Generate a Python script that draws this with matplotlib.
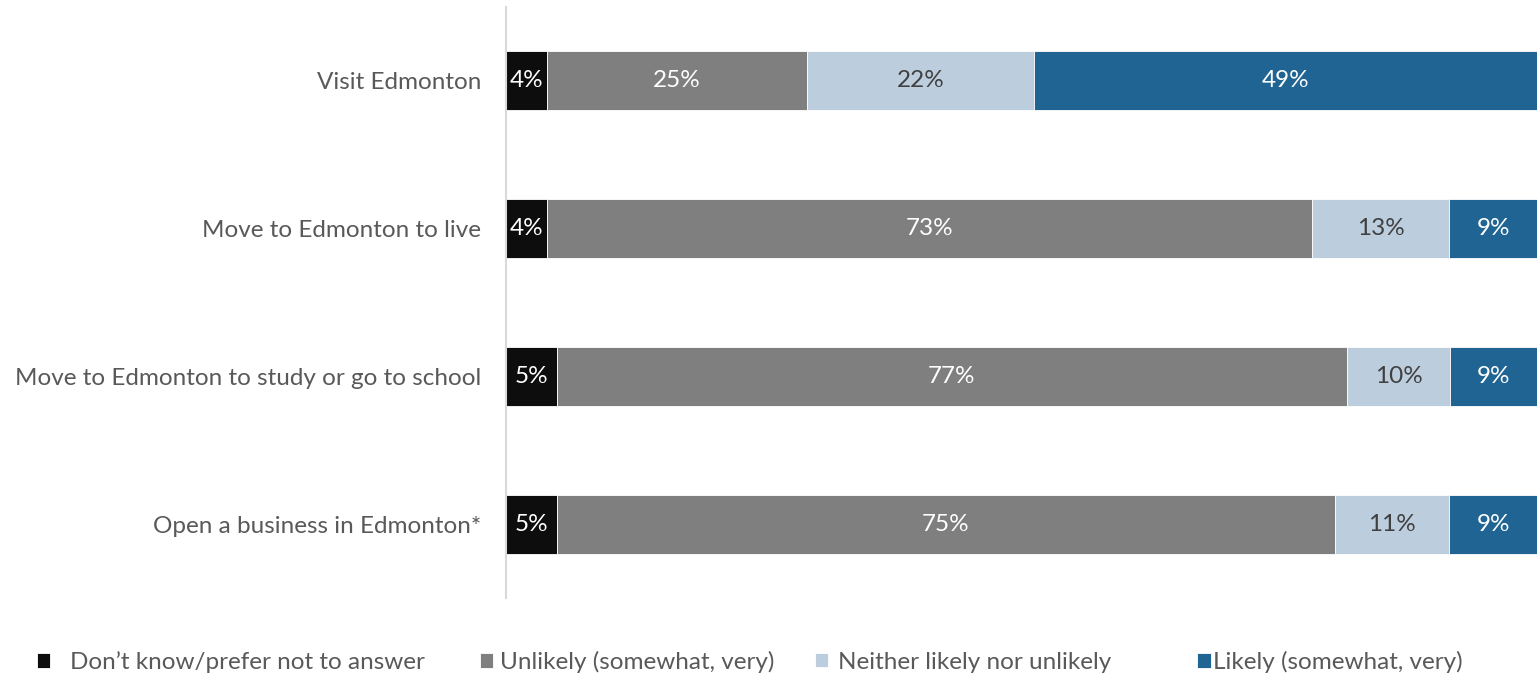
import matplotlib.pyplot as plt
import numpy as np

plt.rcParams['font.family'] = ['Lato', 'DejaVu Sans']

categories = ["Visit Edmonton", "Move to Edmonton to live",
              "Move to Edmonton to study or go to school", "Open a business in Edmonton*"]
series_names = ["Don\u2019t know/prefer not to answer", "Unlikely (somewhat, very)",
                "Neither likely nor unlikely", "Likely (somewhat, very)"]

# segment widths (percent)
dont_know = [4.0, 4.0, 4.9, 4.9]
unlikely = [25.2, 74.2, 76.7, 75.5]
neither = [22.0, 13.3, 10.0, 11.1]
likely = [48.8, 8.5, 8.4, 8.5]

# printed labels
dont_know_lbl = ["4%", "4%", "5%", "5%"]
unlikely_lbl = ["25%", "73%", "77%", "75%"]
neither_lbl = ["22%", "13%", "10%", "11%"]
likely_lbl = ["49%", "9%", "9%", "9%"]

colors = ["#0d0d0d", "#7f7f7f", "#bccdde", "#1f6493"]
text_colors = ["white", "white", "#404040", "white"]

fig = plt.figure(figsize=(15.37, 6.77), dpi=100)
ax = fig.add_axes([0.3292, 0.1167, 0.6708, 0.873])

y = np.arange(len(categories))
left = np.zeros(len(categories))
all_vals = [dont_know, unlikely, neither, likely]
all_lbls = [dont_know_lbl, unlikely_lbl, neither_lbl, likely_lbl]
bars = []
for vals, lbls, name, c, tc in zip(all_vals, all_lbls, series_names, colors, text_colors):
    vals = np.array(vals)
    b = ax.barh(y, vals, left=left, height=0.4, color=c, label=name,
                edgecolor="white", linewidth=0.6)
    bars.append(b)
    for yi, l, v, t in zip(y, left, vals, lbls):
        ax.text(l + v / 2, yi, t, ha="center", va="center", color=tc, fontsize=17.5)
    left = left + vals

ax.set_xlim(0, 100)
ax.set_ylim(3.5, -0.5)
ax.set_yticks(y)
ax.set_yticklabels(categories, fontsize=17.5, color="#595959")
ax.tick_params(axis="y", length=0, pad=18)
ax.set_xticks([])
for s in ["top", "right", "bottom"]:
    ax.spines[s].set_visible(False)
ax.spines["left"].set_color("#d9d9d9")
ax.spines["left"].set_linewidth(1.5)

# legend items placed one by one, like the original
leg_x = [0.024, 0.312, 0.530, 0.779]
leg_pad = [0.83, 0.3, 0.42, 0.1]
for b, name, lx, lp in zip(bars, series_names, leg_x, leg_pad):
    leg = fig.legend([b], [name], loc="center left", bbox_to_anchor=(lx, 0.022),
                     frameon=False, fontsize=17.5, handlelength=0.55, handleheight=0.55,
                     handletextpad=lp, borderpad=0, borderaxespad=0)
    for t in leg.get_texts():
        t.set_color("#595959")

fig.savefig("out.png", dpi=100)
